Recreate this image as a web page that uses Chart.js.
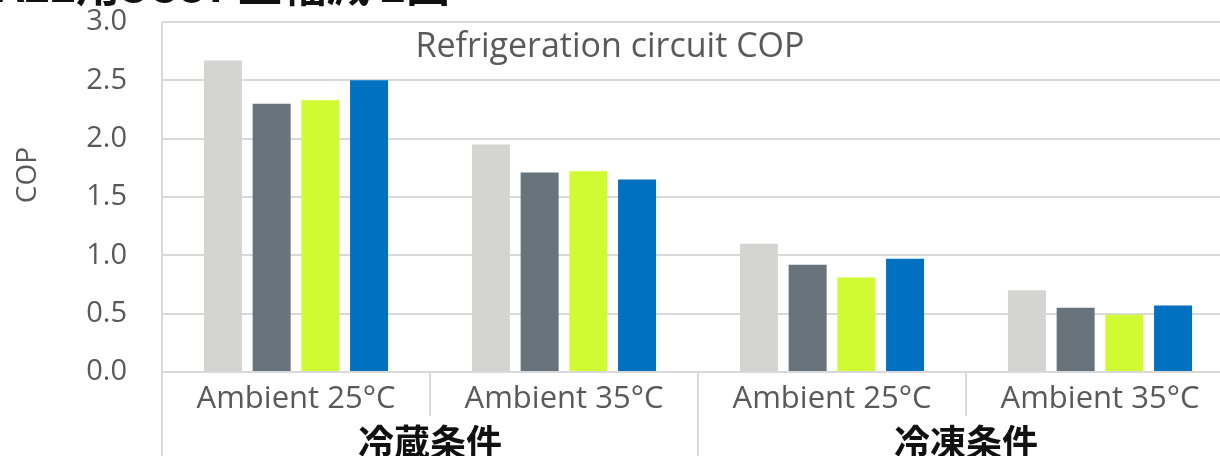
<!DOCTYPE html>
<html>
<head>
<meta charset="utf-8">
<script src="https://cdn.jsdelivr.net/npm/chart.js@4.4.1/dist/chart.umd.min.js"></script>
<style>
  html, body { margin: 0; padding: 0; background: #fff; overflow: hidden; }
  #wrap { position: absolute; left: 0; top: 0; width: 1236px; height: 456px; }
</style>
</head>
<body>
<div id="wrap"><canvas id="c" width="1236" height="456"></canvas></div>
<script>
// Chart data
const categories = ['Ambient 25°C', 'Ambient 35°C', 'Ambient 25°C', 'Ambient 35°C'];
const conditionGroups = ['冷蔵条件', '冷凍条件'];
const seriesA = [2.67, 1.95, 1.10, 0.70];
const seriesB = [2.30, 1.71, 0.92, 0.55];
const seriesC = [2.33, 1.72, 0.81, 0.49];
const seriesD = [2.50, 1.65, 0.97, 0.57];
const yTickValues = [0, 0.5, 1.0, 1.5, 2.0, 2.5, 3.0];
const chartTitle = 'Refrigeration circuit COP';
const yAxisTitle = 'COP';
const headingText = 'A22用SCOP上幅減 2図';

const TEXT = '#595959';
const GRID = '#D9D9D9';
const LATIN = '"Open Sans", "Noto Sans", sans-serif';
const CJK = '"Noto Sans CJK JP", sans-serif';

// Extra annotations: heading, in-plot title, axis title, category dividers and group labels
const annotations = {
  id: 'annotations',
  afterDraw(chart) {
    const { ctx, chartArea, scales } = chart;
    const x = scales.x;
    const catW = (x.right - x.left) / categories.length;
    ctx.save();

    // dividers under the category axis
    ctx.strokeStyle = GRID;
    ctx.lineWidth = 2;
    for (let i = 0; i <= categories.length; i++) {
      const px = Math.round(x.left + i * catW);
      const bottom = (i % 2 === 0) ? chart.height : chartArea.bottom + 44;
      ctx.beginPath();
      ctx.moveTo(px, i === 0 ? chartArea.top : chartArea.bottom);
      ctx.lineTo(px, bottom);
      ctx.stroke();
    }

    // group labels
    ctx.fillStyle = '#111';
    ctx.font = `bold 36px ${CJK}`;
    ctx.textAlign = 'center';
    ctx.textBaseline = 'middle';
    conditionGroups.forEach((g, k) => {
      const cx = x.left + (2 * k + 1) * catW;
      ctx.fillText(g, cx, 442);
    });

    // in-plot title
    ctx.fillStyle = TEXT;
    ctx.font = `34px ${LATIN}`;
    ctx.fillText(chartTitle, 610, 47);

    // y axis title
    ctx.save();
    ctx.translate(28, 175);
    ctx.rotate(-Math.PI / 2);
    ctx.font = `28px ${LATIN}`;
    ctx.fillText(yAxisTitle, 0, 0);
    ctx.restore();

    // heading running off the top edge
    ctx.fillStyle = '#111';
    ctx.font = `bold 44px ${CJK}`;
    ctx.textAlign = 'left';
    ctx.textBaseline = 'alphabetic';
    ctx.fillText(headingText, -4, 2);

    ctx.restore();
  }
};

new Chart(document.getElementById('c'), {
  type: 'bar',
  data: {
    labels: categories,
    datasets: [
      { data: seriesA, backgroundColor: '#D4D5D0' },
      { data: seriesB, backgroundColor: '#68737C' },
      { data: seriesC, backgroundColor: '#D0FA33' },
      { data: seriesD, backgroundColor: '#0070C0' }
    ]
  },
  options: {
    responsive: false,
    animation: false,
    devicePixelRatio: 1,
    layout: { padding: { top: 22, right: 2, left: 0, bottom: 0 } },
    datasets: { bar: { categoryPercentage: 0.727, barPercentage: 0.78, borderWidth: 0 } },
    plugins: { legend: { display: false }, tooltip: { enabled: false }, title: { display: false } },
    scales: {
      x: {
        grid: { display: false, drawTicks: false },
        border: { display: false },
        ticks: { color: TEXT, font: { family: LATIN, size: 31 }, padding: 9, maxRotation: 0, autoSkip: false },
        afterFit(s) { s.height = 84; s.paddingLeft = 0; s.paddingRight = 0; }
      },
      y: {
        min: 0,
        max: 3,
        afterBuildTicks(s) { s.ticks = yTickValues.map(v => ({ value: v })); },
        grid: { color: GRID, lineWidth: 2, drawTicks: false },
        border: { display: false },
        ticks: {
          color: TEXT,
          font: { family: LATIN, size: 29 },
          padding: 35,
          callback: v => Number(v).toFixed(1)
        },
        afterFit(s) { s.width = 162; s.paddingTop = 0; s.paddingBottom = 0; }
      }
    }
  },
  plugins: [annotations]
});
</script>
</body>
</html>
